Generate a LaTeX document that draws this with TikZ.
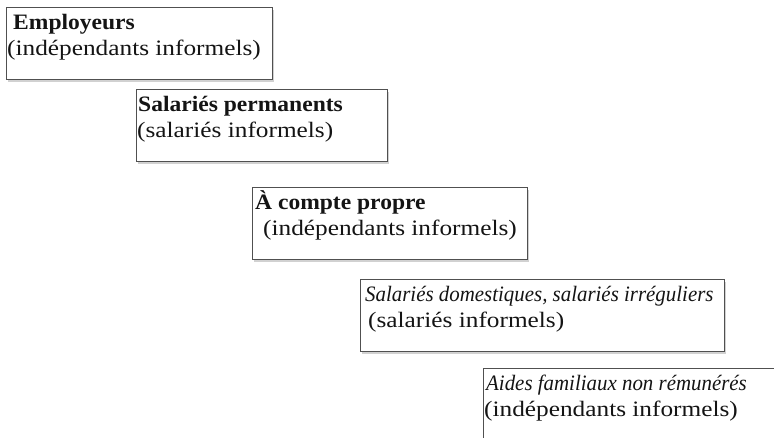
\documentclass[tikz,border=0pt]{standalone}
\usepackage{fontspec}
\setmainfont{Liberation Serif}[FakeStretch=1.15,BoldFeatures={FakeStretch=1.07},ItalicFeatures={FakeStretch=0.95}]
\usepackage{xcolor}
\usetikzlibrary{shadows}
\definecolor{cEdge}{HTML}{505050}
\definecolor{cInk}{HTML}{141414}
\definecolor{cShade}{HTML}{8C8C8C}
\newcommand{\firststrut}{\rule{0pt}{21pt}}
\tikzset{
  catbox/.style={draw=cEdge,fill=white,line width=0.9pt,anchor=north west,inner sep=0pt,
    drop shadow={shadow xshift=1.5pt,shadow yshift=-3pt,fill=cShade,opacity=0.4}},
  cattext/.style={anchor=north west,align=left,inner sep=0pt,text=cInk,font=\fontsize{22}{26.5}\selectfont},
}

\begin{document}
\begin{tikzpicture}[x=1pt,y=-1pt]
\useasboundingbox (0,0) rectangle (774,438);
\clip (0,0) rectangle (774,438);
\foreach \n/\x/\y/\w/\h/\head/\sub in {
  emp/6/7/266/72/{\hspace{6pt}\textbf{Employeurs}}/{(indépendants informels)},
  perm/136/89/251/72/{\hspace{1pt}\textbf{Salariés permanents}}/{(salariés informels)},
  cpt/252/187/275/72/{\hspace{2pt}\textbf{À compte propre}}/{\hspace{10pt}(indépendants informels)},
  dom/360/279/364/72/{\hspace{4pt}\textit{Salariés domestiques, salariés irréguliers}}/{\hspace{7pt}(salariés informels)},
  aide/483/368/320/90/{\hspace{2pt}\textit{Aides familiaux non rémunérés}}/{(indépendants informels)}%
}{
  \node[catbox,minimum width=\w pt,minimum height=\h pt] (\n) at (\x,\y) {};
  \node[cattext] (\n-txt) at ([xshift=1pt,yshift=-1pt]\n.north west) {\firststrut\head\\\sub};
}
\end{tikzpicture}
\end{document}
